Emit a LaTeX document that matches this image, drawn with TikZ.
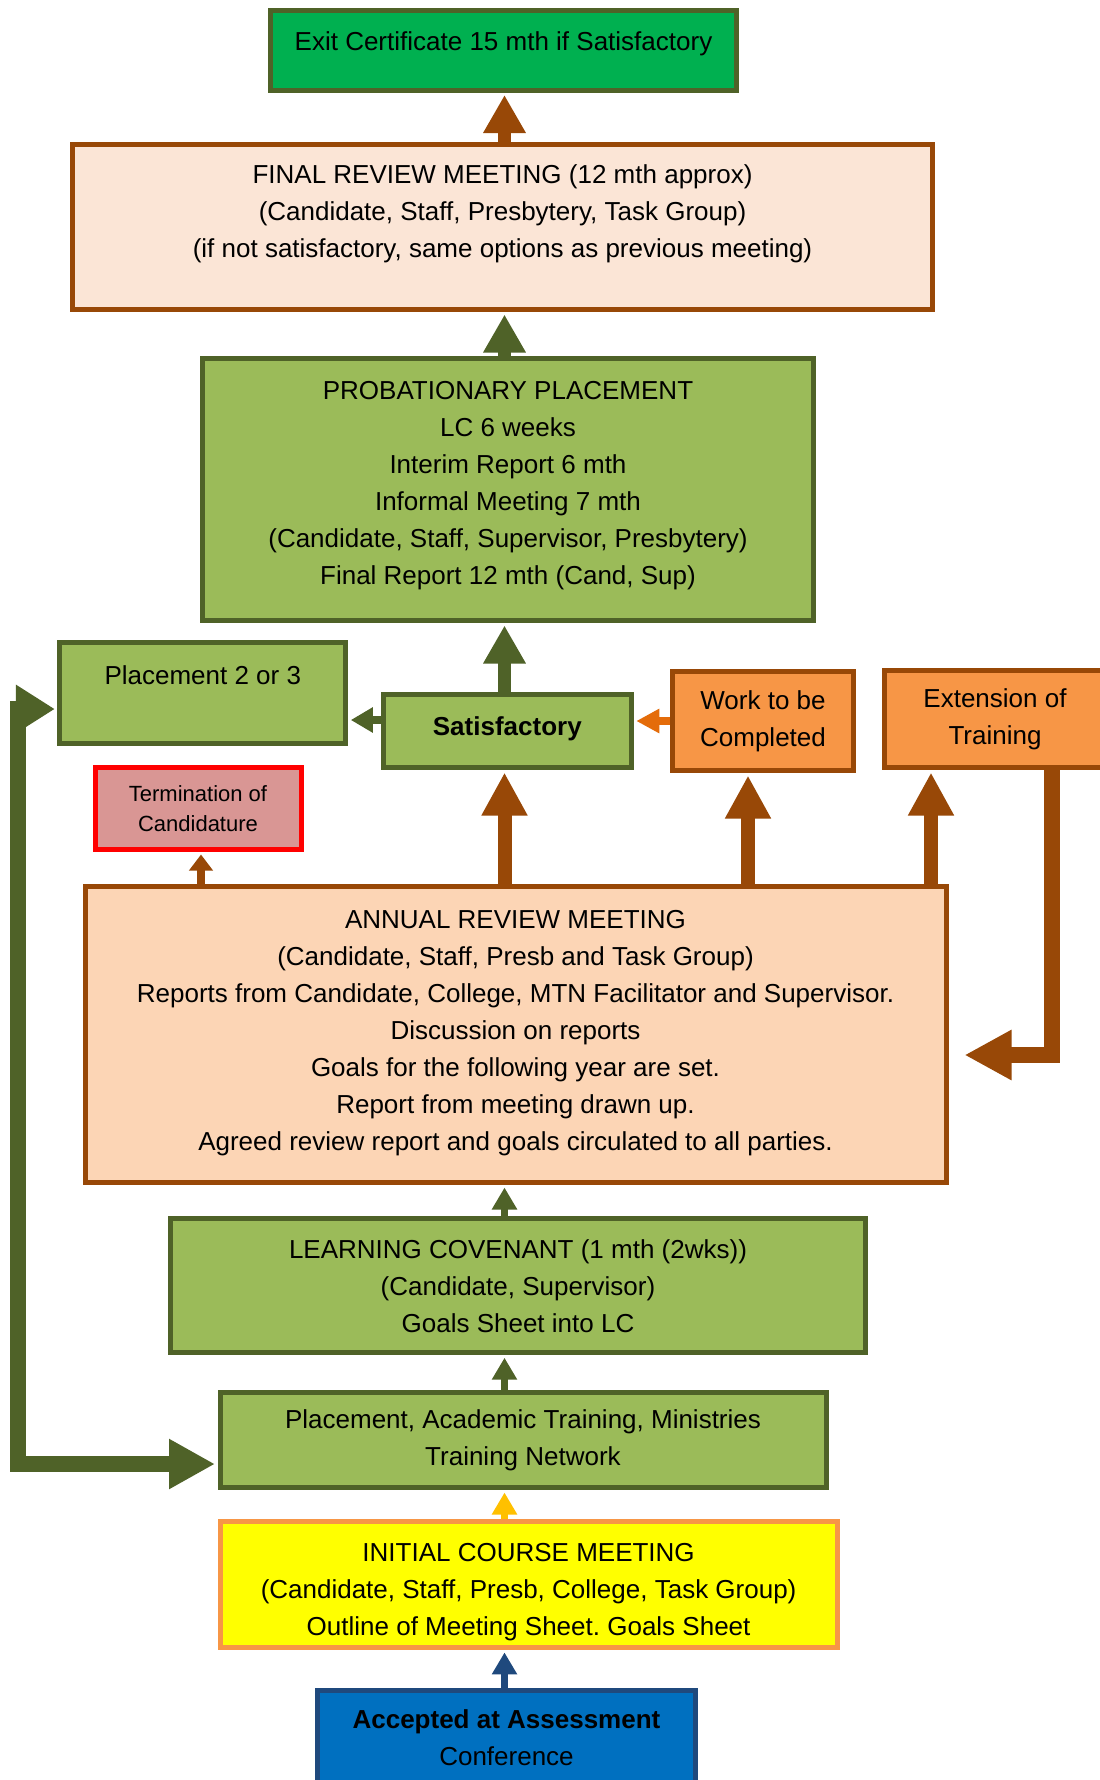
\documentclass[tikz,border=0pt]{standalone}
\usepackage{fontspec}
\setmainfont{Liberation Sans}
\usetikzlibrary{arrows.meta}
\frenchspacing

\definecolor{olivedark}{HTML}{4F6228}
\definecolor{olivefill}{HTML}{9BBB59}
\definecolor{exitgreen}{HTML}{00B050}
\definecolor{rustbrown}{HTML}{984807}
\definecolor{peachlight}{HTML}{FBE5D6}
\definecolor{peach}{HTML}{FCD5B5}
\definecolor{orangefill}{HTML}{F79646}
\definecolor{orangelink}{HTML}{E46C0A}
\definecolor{rosefill}{HTML}{D99694}
\definecolor{alertred}{HTML}{FF0000}
\definecolor{yellowfill}{HTML}{FFFF00}
\definecolor{amberlink}{HTML}{FFC000}
\definecolor{navyline}{HTML}{1F497D}
\definecolor{bluefill}{HTML}{0070C0}

\begin{document}
\begin{tikzpicture}[x=1pt,y=-1pt,
    every node/.style={draw,line width=5pt,align=center,inner sep=0pt,
      font=\fontsize{26pt}{37pt}\selectfont},
    greenbox/.style={fill=olivefill,draw=olivedark},
    rustbox/.style={fill=#1,draw=rustbrown},
    linkthin/.style={line width=7pt,-{Triangle[length=22pt,width=24pt]},shorten >=2.5pt},
    linkmid/.style={line width=13pt,-{Triangle[length=38pt,width=40pt]},shorten >=2.5pt},
    linkthick/.style={line width=14pt,-{Triangle[length=43pt,width=43pt]},shorten >=2.5pt}]
  \clip (0,0) rectangle (1100,1780);
  \fill[white] (0,0) rectangle (1100,1780);
  \coordinate (axis) at (504.5,0);
  \coordinate (loopx) at (18,0);

  % top of the chart
  \node[fill=exitgreen,draw=olivedark,minimum width=466pt,minimum height=80pt,text depth=17pt] (exit) at (503.5,50) {Exit Certificate 15 mth if Satisfactory};
  \node[rustbox=peachlight,minimum width=860pt,minimum height=165pt,text depth=31.5pt] (final) at (502.5,227) {FINAL REVIEW MEETING (12 mth approx)\\(Candidate, Staff, Presbytery, Task Group)\\(if not satisfactory, same options as previous meeting)};
  \node[greenbox,minimum width=611pt,minimum height=262pt,text depth=13pt] (prob) at (508,489.5) {PROBATIONARY PLACEMENT\\LC 6 weeks\\Interim Report 6 mth\\Informal Meeting 7 mth\\(Candidate, Staff, Supervisor, Presbytery)\\Final Report 12 mth (Cand, Sup)};

  % outcomes of the annual review
  \node[greenbox,minimum width=286pt,minimum height=101pt,text depth=35pt] (p23) at (202.8,693) {Placement 2 or 3};
  \node[greenbox,minimum width=248pt,minimum height=73pt,text depth=9pt,font=\fontsize{26pt}{37pt}\selectfont\bfseries] (sat) at (507.3,731) {Satisfactory};
  \node[rustbox=orangefill,minimum width=181pt,minimum height=99pt] (work) at (763,721) {Work to be\\Completed};
  \node[rustbox=orangefill,minimum width=221pt,minimum height=97pt] (ext) at (995,719) {Extension of\\Training};
  \node[fill=rosefill,draw=alertred,minimum width=206pt,minimum height=82pt,font=\fontsize{22pt}{30pt}\selectfont] (term) at (198,808.5) {Termination of\\Candidature};

  \node[rustbox=peach,minimum width=861pt,minimum height=296pt,text depth=8.5pt] (annual) at (515.5,1034.5) {ANNUAL REVIEW MEETING\\(Candidate, Staff, Presb and Task Group)\\Reports from Candidate, College, MTN Facilitator and Supervisor.\\Discussion on reports\\Goals for the following year are set.\\Report from meeting drawn up.\\Agreed review report and goals circulated to all parties.};

  % start of training
  \node[greenbox,minimum width=695pt,minimum height=134pt] (lc) at (518,1285.7) {LEARNING COVENANT (1 mth (2wks))\\(Candidate, Supervisor)\\Goals Sheet into LC};
  \node[greenbox,minimum width=606pt,minimum height=95pt] (pat) at (523,1440) {Placement, Academic Training, Ministries\\Training Network};
  \node[fill=yellowfill,draw=orangefill,minimum width=617pt,minimum height=126pt,text height=107pt] (init) at (528.6,1584.4) {INITIAL COURSE MEETING\\(Candidate, Staff, Presb, College, Task Group)\\Outline of Meeting Sheet. Goals Sheet};
  \node[fill=bluefill,draw=navyline,minimum width=378pt,minimum height=95pt] (acc) at (506.5,1738) {\textbf{Accepted at Assessment}\\Conference};

  % links up the middle
  \draw[linkthin,navyline] (axis |- acc.north) -- (axis |- init.south);
  \draw[linkthin,amberlink] (axis |- init.north) -- (axis |- pat.south);
  \draw[linkthin,olivedark] (axis |- pat.north) -- (axis |- lc.south);
  \draw[linkthin,olivedark] (axis |- lc.north) -- (axis |- annual.south);
  \draw[linkthick,rustbrown] (axis |- annual.north) -- (axis |- sat.south);
  \draw[linkmid,olivedark] (axis |- sat.north) -- (axis |- prob.south);
  \draw[linkmid,olivedark] (axis |- prob.north) -- (axis |- final.south);
  \draw[linkmid,rustbrown] (axis |- final.north) -- (axis |- exit.south);

  % links out of the annual review
  \draw[rustbrown,line width=8pt,-{Triangle[length=16pt,width=23pt]},shorten >=2.5pt] ([xshift=3pt]term.south |- annual.north) -- ([xshift=3pt]term.south);
  \draw[linkthick,rustbrown] ([xshift=-15pt]work.south |- annual.north) -- ([xshift=-15pt]work.south);
  \draw[linkthick,rustbrown] ([xshift=-64pt]ext.south |- annual.north) -- ([xshift=-64pt]ext.south);
  \draw[rustbrown,line width=16pt,-{Triangle[length=47pt,width=47pt]},shorten >=16pt] ([xshift=57pt]ext.south) |- ([yshift=-20.5pt]annual.east);

  % sideways links
  \draw[olivedark,line width=8pt,-{Triangle[length=22pt,width=24pt]},shorten >=2.5pt] ([yshift=11pt]sat.west) -- ([yshift=11pt]sat.west -| p23.east);
  \draw[orangelink,line width=8pt,-{Triangle[length=23pt,width=23pt]},shorten >=2.5pt] (work.west) -- (work.west -| sat.east);

  % loop back to the placements
  \coordinate (looptop) at ([yshift=-16pt]p23.west);
  \coordinate (loopbot) at ([yshift=-24pt]pat.west);
  \draw[olivedark,line width=16pt,{Triangle[length=39pt,width=46pt]}-{Triangle[length=46pt,width=47pt]},shorten <=2.5pt,shorten >=2.5pt] (looptop) -- (looptop -| loopx) -- (loopbot -| loopx) -- (loopbot);
\end{tikzpicture}
\end{document}
